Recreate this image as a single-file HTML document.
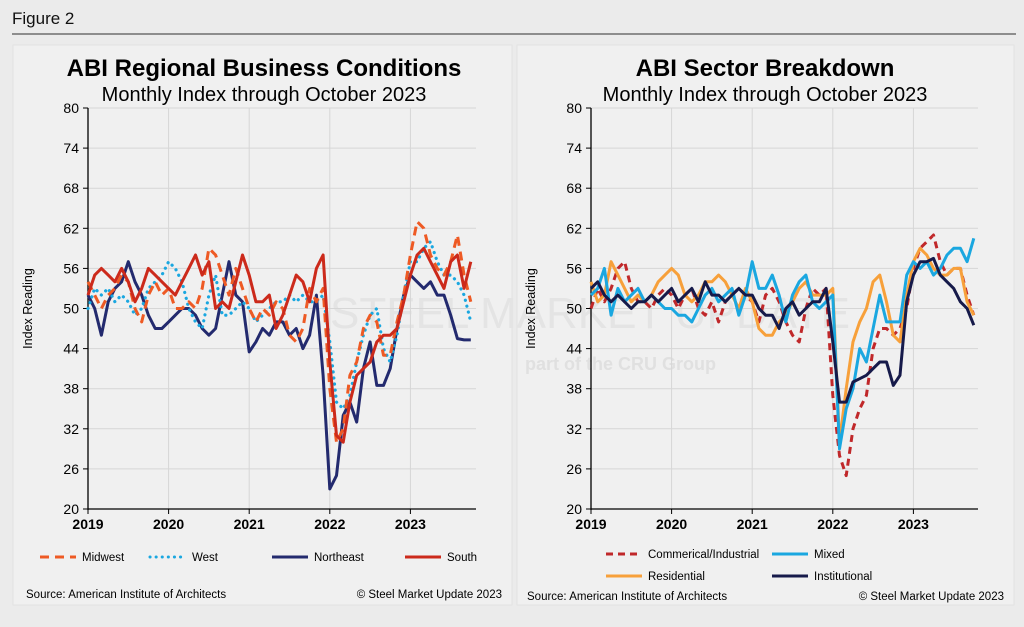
<!DOCTYPE html>
<html><head><meta charset="utf-8"><style>
body{margin:0;width:1024px;height:627px;background:#ebebeb;font-family:"Liberation Sans",Arial,sans-serif;overflow:hidden}
svg{position:absolute;left:0;top:0}
</style></head><body>
<svg id="s" width="1024" height="627">
<text x="12" y="24" font-size="17" fill="#111">Figure 2</text>
<line x1="12" y1="34" x2="1016" y2="34" stroke="#555" stroke-width="1.3"/>
<rect x="13" y="45" width="499" height="560" fill="#f0f0f0" stroke="#e2e2e2"/>
<rect x="517" y="45" width="497" height="560" fill="#f0f0f0" stroke="#e2e2e2"/>
<text x="264" y="76" font-size="24" font-weight="bold" text-anchor="middle">ABI Regional Business Conditions</text>
<text x="264" y="101" font-size="20" text-anchor="middle">Monthly Index through October 2023</text>
<text x="765" y="76" font-size="24" font-weight="bold" text-anchor="middle">ABI Sector Breakdown</text>
<text x="765" y="101" font-size="20" text-anchor="middle">Monthly Index through October 2023</text>
<text x="330" y="328" font-size="44" fill="#e4e4e4">STEEL MARKET UPDATE</text>
<text x="525" y="370" font-size="18" font-weight="bold" fill="#e0e0e0">part of the CRU Group</text>
<text x="26" y="598" font-size="11.5">Source: American Institute of Architects</text>
<text x="502" y="598" font-size="11.5" text-anchor="end">© Steel Market Update 2023</text>
<text x="527" y="600" font-size="11.5">Source: American Institute of Architects</text>
<text x="1004" y="600" font-size="11.5" text-anchor="end">© Steel Market Update 2023</text>
</svg>
<script>
const yTicks=[20,26,32,38,44,50,56,62,68,74,80];
const years=["2019","2020","2021","2022","2023"];
const midwest=[54,52,50,52,53,55,54,50,48,52,54,52, 53,50,50,51,50,53,59,58,55,52,56,53, 50,48,50,49,51,50,46,45,47,53,51,53, 38,30,32,40,42,47,49,48,43,43,48,52, 58,63,62,58,56,55,57,61,55,51];
const west=[50,53,52,53,51,52,51,49,50,53,54,55, 57,56,54,50,48,47,52,55,49,49,50,51, 50,48,49,50,51,51,52,51,52,51,51,52, 45,36,35,37,42,46,49,50,44,42,46,52, 57,57,59,60,57,55,55,54,52,48];
const northeast=[52,50,46,51,53,54,57,54,52,49,47,47, 48,49,50,50,49,47,46,47,52,57,52,51, 43.5,45,47,46,48,48,46,47,44,46,52,40, 23,25,34,36,33,41,45,38.5,38.5,41,47,52, 55,54,53,54,52,52,49,45.5,45.3,45.3];
const south=[52,55,56,55,54,56,54,51,53,56,55,54, 53,52,54,56,58,55,57,50,51,50,54,58, 55,51,51,52,47,49,52,55,54,51,56,58, 42,31,30,36,40,41,42,45,46,46,47,51, 55,58,59,57,55,53,57,58,53,57];
const commercial=[50,53,51,53,56,57,53,51,51,50,52,53, 52,50,52,53,50,49,51,48,51,52,53,52, 51,48,52,53,51,48,46,45,50,53,52,53, 37,28,25,32,35,37,44,47,47,46,47,50, 56,59,60,61,57,55,56,56,52,49];
const mixed=[52,53,56,49,53,51,52,53,51,52,51,50, 50,49,49,48,50,52,53,51,52,53,49,52, 57,53,53,55,52,48,52,54,55,51,50,51, 52,29,35,38,44,42,47,52,48,48,48,55, 57,56,57,55,56,58,59,59,57,60.5];
const residential=[54,51,52,57,55,53,51,52,51,52,54,55, 56,55,52,51,52,54,54,55,54,52,50,53, 51,47,46,46,48,49,51,53,54,52,52,52, 53,30,38,45,48,50,54,55,51,46,45,52, 57,59,58,56,55,55,56,56,51,49];
const institutional=[53,54,52,51,52,51,50,51,51,52,51,52, 53,51,52,53,51,54,52,52,51,52,53,52, 52,50,49,49,47,50,51,49,50,51,51,53, 45,36,36,39,39.5,40,41,42,42,38.5,40,51, 55,57,57,57.5,55,54,53,51,50,47.5];
const NS="http://www.w3.org/2000/svg",S=document.getElementById('s');
function el(t,a,p){const e=document.createElementNS(NS,t);for(const k in a)e.setAttribute(k,a[k]);(p||S).appendChild(e);return e;}
function chart(x0,xEnd,series,prefix){
  const y0=509,y1=108,px=80.6/12;
  const Y=v=>y0-(v-20)/60*(y0-y1), X=i=>x0+i*px;
  const g=el('g',{});
  
  
  yTicks.forEach(t=>{
    if(t>20)el('line',{x1:x0,x2:xEnd,y1:Y(t),y2:Y(t),stroke:'#d6d6d6','stroke-width':1},g);
    el('line',{x1:x0-5,x2:x0,y1:Y(t),y2:Y(t),stroke:'#000'},g);
    const tx=el('text',{x:x0-9,y:Y(t)+5,'font-size':14,'text-anchor':'end'},g);tx.textContent=t;
    
    
  });
  years.forEach((yr,i)=>{
    const x=X(i*12);
    if(i>0)el('line',{x1:x,x2:x,y1:y1,y2:y0,stroke:'#d6d6d6'},g);
    el('line',{x1:x,x2:x,y1:y0,y2:y0+5,stroke:'#000'},g);
    const tx=el('text',{x:x,y:y0+20,'font-size':14,'font-weight':'bold','text-anchor':'middle'},g);tx.textContent=yr;
    
    
  });
  el('line',{x1:x0,x2:x0,y1:y1,y2:y0+1,stroke:'#000','stroke-width':1.3},g);
  el('line',{x1:x0,x2:xEnd,y1:y0,y2:y0,stroke:'#000','stroke-width':1.3},g);
  const yl=el('text',{x:0,y:0,'font-size':12.5,'text-anchor':'middle',transform:`translate(${x0-56},${(y0+y1)/2}) rotate(-90)`},g);
  yl.textContent='Index Reading';
  
  
  series.forEach(s=>{
    const d=s.data.map((v,i)=>(i?'L':'M')+X(i).toFixed(1)+','+Y(v).toFixed(1)).join('');
    const p=el('path',{d:d,fill:'none',stroke:s.c,'stroke-width':s.w||3,'stroke-dasharray':s.dash||'','stroke-linecap':s.cap||'butt','stroke-linejoin':'round'},g);
    
    
  });
}
chart(88,476,[
 {name:'northeast',data:northeast,c:'#232a6e'},
 {name:'west',data:west,c:'#1aa7e0',dash:'0.1 6',cap:'round',w:3.2},
 {name:'midwest',data:midwest,c:'#ee5a24',dash:'9 6'},
 {name:'south',data:south,c:'#cc2a1b'}],'regional');
chart(591,978,[
 {name:'commercial',data:commercial,c:'#c0282a',dash:'7 5'},
 {name:'residential',data:residential,c:'#f7a03a'},
 {name:'mixed',data:mixed,c:'#1aa7e0'},
 {name:'institutional',data:institutional,c:'#161a4a'}],'sector');
const legends=[
 ['midwest','Midwest',40,557,'#ee5a24','9 6','butt'],['west','West',150,557,'#1aa7e0','0.1 6','round'],
 ['northeast','Northeast',272,557,'#232a6e','',''],['south','South',405,557,'#cc2a1b','',''],
 ['commercial','Commerical/Industrial',606,554,'#c0282a','7 5',''],['mixed','Mixed',772,554,'#1aa7e0','',''],
 ['residential','Residential',606,576,'#f7a03a','',''],['institutional','Institutional',772,576,'#161a4a','','']];
legends.forEach(l=>{
  const g=el('g',{});
  
  
  el('line',{x1:l[2],x2:l[2]+36,y1:l[3],y2:l[3],stroke:l[4],'stroke-width':3,'stroke-dasharray':l[5],'stroke-linecap':l[6]||'butt'},g);
  const t=el('text',{x:l[2]+42,y:l[3]+4,'font-size':11.5},g);t.textContent=l[1];
});
</script>
</body></html>
